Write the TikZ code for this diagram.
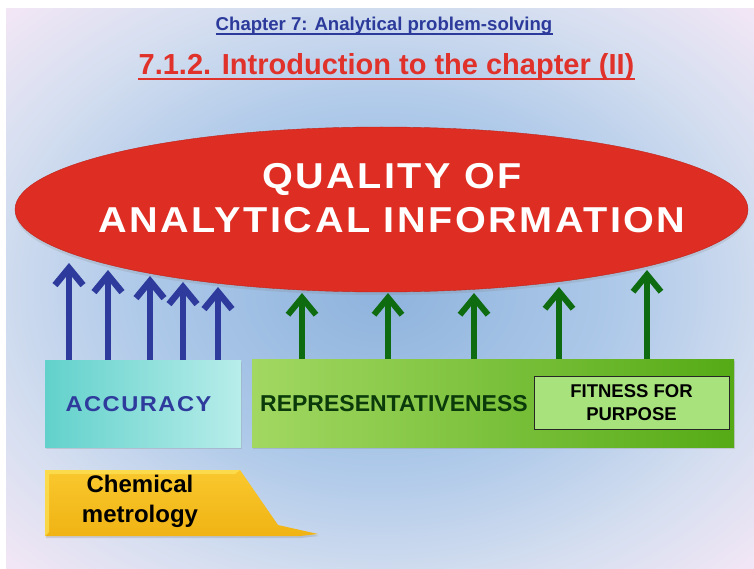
\documentclass[tikz,border=0pt]{standalone}
\usepackage{fontspec}
\setmainfont{Liberation Sans}
\newfontfamily\widefont[FakeStretch=1.1,LetterSpace=7]{Liberation Sans}
\usetikzlibrary{arrows.meta,positioning,shapes.geometric,shadows}

\definecolor{bgcentre}{HTML}{8EB3DD}
\definecolor{bgmid}{HTML}{AEC9E9}
\definecolor{bgedge}{HTML}{D6DFF0}
\definecolor{bgcorner}{HTML}{F5E7F6}
\definecolor{titleblue}{HTML}{2C3B9B}
\definecolor{titlered}{HTML}{E0322A}
\definecolor{ellred}{HTML}{DE2D22}
\definecolor{arrblue}{HTML}{2E3B9C}
\definecolor{arrgreen}{HTML}{0E6B10}
\definecolor{accL}{HTML}{62D1CB}
\definecolor{accR}{HTML}{B8EDEA}
\definecolor{repL}{HTML}{A2D862}
\definecolor{repM}{HTML}{8CD04C}
\definecolor{repR}{HTML}{55AA16}
\definecolor{reptext}{HTML}{0B3A0B}
\definecolor{fitfill}{HTML}{A7E27C}
\definecolor{chemT}{HTML}{F9C82E}
\definecolor{chemB}{HTML}{F0B313}
\definecolor{chemhi}{HTML}{FDE45A}
\pgfdeclareradialshading{bgglow}{\pgfpoint{0bp}{0bp}}{color(0bp)=(bgcentre); color(16bp)=(bgmid); color(27bp)=(bgedge); color(36bp)=(bgcorner); color(50bp)=(bgcorner)}

\begin{document}
\begin{tikzpicture}[x=1pt,y=-1pt,
 box/.style={draw=none,inner sep=0pt,drop shadow={shadow xshift=1pt,shadow yshift=-2pt,opacity=.25}},
 bluearrow/.style={arrblue,line width=6.5pt,-{Straight Barb[length=17pt,width=28pt]}},
 greenarrow/.style={arrgreen,line width=6pt,-{Straight Barb[length=17pt,width=28pt]}},
 lbl/.style={font=\bfseries\fontsize{22}{26}\selectfont,inner sep=0pt}]
\useasboundingbox (0,0) rectangle (754,569);
\fill[white] (0,0) rectangle (754,569);
\shade[shading=bgglow] (6,9) rectangle (754,569);
% titles
\node[font=\bfseries\fontsize{18.6}{20}\selectfont,text=titleblue,inner sep=0pt,anchor=base] (chap) at (384,31) {Chapter 7: Analytical problem-solving};
\draw[titleblue,line width=1.8pt] ([yshift=-3pt]chap.base west) -- ([yshift=-3pt]chap.base east);
\node[font=\bfseries\fontsize{29}{32}\selectfont,text=titlered,inner sep=0pt,anchor=base] (sect) at (386.5,75) {7.1.2. Introduction to the chapter (II)};
\draw[titlered,line width=2.6pt] ([yshift=-4pt]sect.base west) -- ([yshift=-4pt]sect.base east);
% the ellipse
\node[ellipse,fill=ellred,draw=ellred!85!black,line width=.4pt,minimum width=733pt,minimum height=165pt,inner sep=0pt,
 drop shadow={shadow xshift=0pt,shadow yshift=-3pt,opacity=.2}] (qual) at (381.5,209.5) {};
\node[font=\widefont\bfseries\fontsize{36}{44}\selectfont,text=white,align=center,inner sep=0pt] (qualtxt) at (392,198) {QUALITY OF\\ANALYTICAL INFORMATION};
% boxes
\node[box,left color=accL,right color=accR,minimum width=196pt,minimum height=87pt] (acc) at (143,403.5) {};
\node[lbl,font=\widefont\bfseries\fontsize{21.5}{26}\selectfont,text=arrblue] (acclbl) at (138.5,404) {ACCURACY};
\node[box,left color=repL,middle color=repM,right color=repR,minimum width=482pt,minimum height=88pt] (rep) at (493,403) {};
\node[lbl,font=\bfseries\fontsize{23}{26}\selectfont,text=reptext,anchor=west] (replbl) at (260,404) {REPRESENTATIVENESS};
\node[draw=black!85,line width=.8pt,fill=fitfill,minimum width=195pt,minimum height=53pt,inner sep=0pt] (fit) at (631.5,402.5) {};
\node[font=\bfseries\fontsize{18.5}{23}\selectfont,align=center,inner sep=0pt] (fitlbl) at (631.5,403) {FITNESS FOR\\PURPOSE};
% arrows up to the ellipse
\foreach \x/\t [count=\i] in {69/263,108/270,150/276,183/282,218/287}{
 \coordinate (tipa\i) at (\x,\t);
 \draw[bluearrow] (tipa\i |- acc.north) -- (tipa\i);}
\foreach \x/\t [count=\i] in {302/293,388/293,474/293,559/287,647/270}{
 \coordinate (tipr\i) at (\x,\t);
 \draw[greenarrow] (tipr\i |- rep.north) -- (tipr\i);}
% chemical metrology tab
\shade[top color=chemT,bottom color=chemB,drop shadow={shadow xshift=1pt,shadow yshift=-2pt,opacity=.25}]
 (45,470) -- (240,470) -- (278,525) -- (318,534) -- (300,536) -- (45,536) -- cycle;
\fill[chemhi,opacity=.7] (45,470) -- (240,470) -- (235,474) -- (49,474) -- (49,532) -- (45,536) -- cycle;
\node[font=\bfseries\fontsize{24}{30}\selectfont,align=center,inner sep=0pt] (chemtxt) at (140,501) {Chemical\\metrology};
\end{tikzpicture}
\end{document}
